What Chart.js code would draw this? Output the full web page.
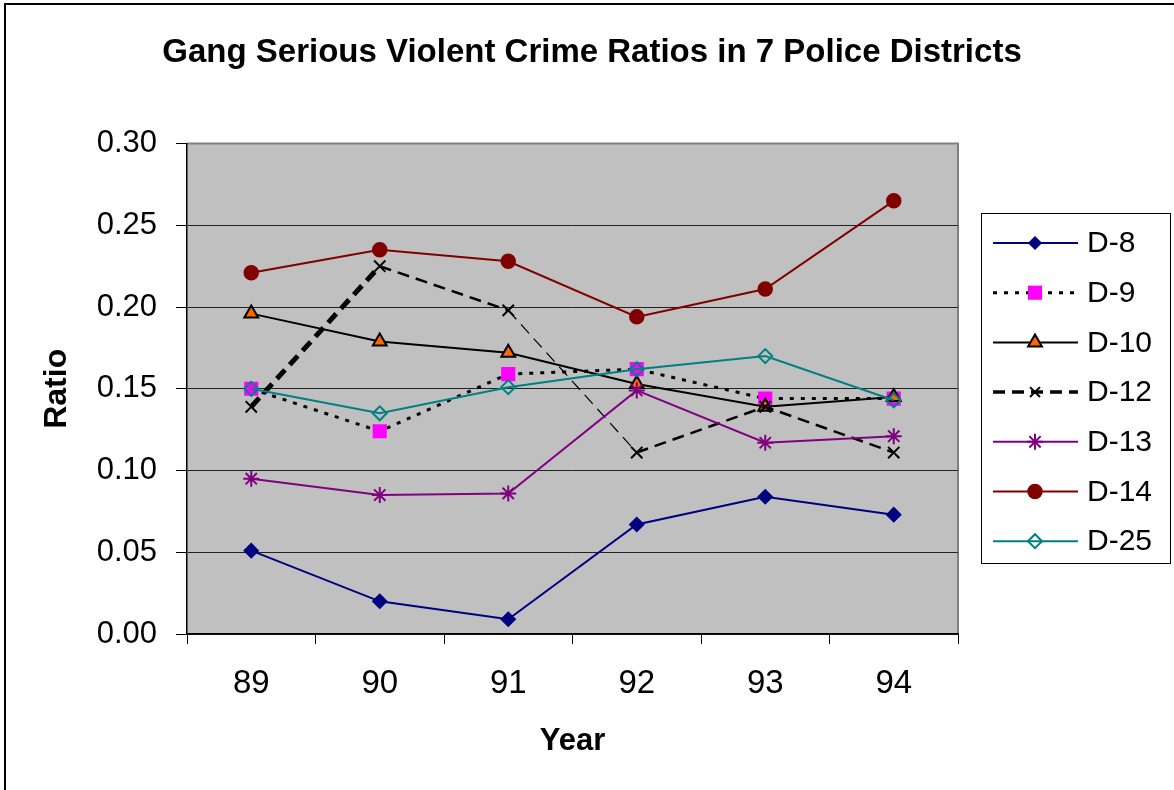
<!DOCTYPE html>
<html>
<head>
<meta charset="utf-8">
<script src="https://cdn.jsdelivr.net/npm/chart.js@4/dist/chart.umd.min.js"></script>
<style>
  html, body { margin: 0; padding: 0; background: #fff; overflow: hidden; }
  #wrap { position: relative; width: 1174px; height: 790px; }
  #frame {
    position: absolute; left: 4px; top: 3px; width: 2000px; height: 2000px;
    border-left: 2px solid #000; border-top: 2px solid #000; pointer-events: none;
  }
</style>
</head>
<body>
<div id="wrap">
  <canvas id="crimeChart" width="1174" height="790"></canvas>
  <div id="frame"></div>
</div>
<script>
// categories
const years = ["89", "90", "91", "92", "93", "94"];

// ratios per district
const d8 = [0.051, 0.020, 0.009, 0.067, 0.084, 0.073];
const d9 = [0.150, 0.124, 0.159, 0.162, 0.144, 0.144];
const d10 = [0.196, 0.179, 0.172, 0.153, 0.139, 0.145];
const d12 = [0.139, 0.225, 0.198, 0.111, 0.139, 0.111];
const d13 = [0.095, 0.085, 0.086, 0.149, 0.117, 0.121];
const d14 = [0.221, 0.235, 0.228, 0.194, 0.211, 0.265];
const d25 = [0.150, 0.135, 0.151, 0.162, 0.170, 0.143];

// y axis ticks
const yMin = 0;
const yMax = 0.30;
const yStep = 0.05;

const FONT = "'Liberation Sans', Arial, sans-serif";

// gray plot area + light top/right frame
const plotBg = {
  id: "plotBg",
  beforeDraw(chart) {
    const { ctx, chartArea: a } = chart;
    ctx.save();
    ctx.fillStyle = "#c0c0c0";
    ctx.fillRect(a.left, a.top, a.right - a.left, a.bottom - a.top);
    ctx.strokeStyle = "#808080";
    ctx.lineWidth = 2;
    ctx.beginPath();
    ctx.moveTo(a.left, a.top);
    ctx.lineTo(a.right, a.top);
    ctx.lineTo(a.right, a.bottom);
    ctx.stroke();
    ctx.restore();
  },
};

// Excel style legend: line sample with marker in the middle
const boxLegend = {
  id: "boxLegend",
  afterDraw(chart) {
    const ctx = chart.ctx;
    const x0 = 981, y0 = 213, w = 189, h = 350;
    const rowY = 243, rowStep = 49.7;
    ctx.save();
    ctx.fillStyle = "#fff";
    ctx.fillRect(x0, y0, w, h);
    ctx.strokeStyle = "#000";
    ctx.lineWidth = 1;
    ctx.strokeRect(x0 + 0.5, y0 + 0.5, w, h);
    chart.data.datasets.forEach((ds, i) => {
      const y = rowY + i * rowStep;
      ctx.save();
      ctx.strokeStyle = ds.borderColor;
      ctx.lineWidth = ds.legendWidth || ds.borderWidth;
      ctx.setLineDash(ds.borderDash || []);
      ctx.beginPath();
      ctx.moveTo(993, y);
      ctx.lineTo(1078, y);
      ctx.stroke();
      ctx.restore();
      ctx.save();
      ctx.fillStyle = ds.pointBackgroundColor;
      ctx.strokeStyle = ds.pointBorderColor;
      ctx.lineWidth = ds.pointBorderWidth;
      Chart.helpers.drawPoint(ctx, {
        pointStyle: ds.pointStyle,
        radius: ds.legendRadius || ds.pointRadius,
        rotation: 0,
        borderWidth: ds.pointBorderWidth,
      }, 1035, y);
      ctx.restore();
      ctx.fillStyle = "#000";
      ctx.font = "30px " + FONT;
      ctx.textBaseline = "middle";
      ctx.textAlign = "left";
      ctx.fillText(ds.label, 1087, y + 1);
    });
    ctx.restore();
  },
};

function series(label, data, o) {
  return Object.assign({
    label: label,
    data: data,
    fill: false,
    tension: 0,
    borderWidth: 2,
    pointBorderWidth: 1.5,
    pointRadius: 7,
    pointHoverRadius: 7,
  }, o);
}

const datasets = [
  series("D-8", d8, {
    borderColor: "#000080", pointStyle: "rectRot",
    pointBackgroundColor: "#000080", pointBorderColor: "#000080", legendRadius: 6,
  }),
  series("D-9", d9, {
    borderColor: "#000", borderWidth: 3, borderDash: [4, 7], pointStyle: "rect", pointRadius: 10,
    pointBackgroundColor: "#ff00ff", pointBorderColor: "#ff00ff", pointBorderWidth: 0,
  }),
  series("D-10", d10, {
    borderColor: "#000", pointStyle: "triangle", pointRadius: 8,
    pointBackgroundColor: "#ff6600", pointBorderColor: "#000", pointBorderWidth: 2,
  }),
  series("D-12", d12, {
    borderColor: "#000", borderWidth: 2.5, borderDash: [12, 7], pointStyle: "crossRot", pointRadius: 8,
    pointBackgroundColor: "#000", pointBorderColor: "#000", pointBorderWidth: 2,
    legendWidth: 3.5, legendRadius: 7,
    segment: {
      borderWidth: (c) => (c.p0DataIndex === 0 ? 5 : c.p0DataIndex === 2 ? 1.2 : 2.5),
    },
  }),
  series("D-13", d13, {
    borderColor: "#800080", pointStyle: "star", pointRadius: 8, pointBorderWidth: 2,
    pointBackgroundColor: "#800080", pointBorderColor: "#800080",
  }),
  series("D-14", d14, {
    borderColor: "#800000", pointStyle: "circle",
    pointBackgroundColor: "#800000", pointBorderColor: "#800000",
  }),
  series("D-25", d25, {
    borderColor: "#008080", pointStyle: "rectRot", pointRadius: 7,
    pointBackgroundColor: "rgba(0,0,0,0)", pointBorderColor: "#008080", pointBorderWidth: 2,
  }),
];
// later series drawn on top, like the original
datasets.forEach((ds, i) => { ds.order = datasets.length - i; });

new Chart(document.getElementById("crimeChart").getContext("2d"), {
  type: "line",
  data: { labels: years, datasets: datasets },
  options: {
    responsive: false,
    animation: false,
    layout: { padding: { left: 10, right: 0, top: 0, bottom: 0 } },
    plugins: {
      legend: { display: false },
      tooltip: { enabled: false },
      title: {
        display: true,
        text: "Gang Serious Violent Crime Ratios in 7 Police Districts",
        color: "#000",
        font: { family: FONT, size: 33, weight: "bold", lineHeight: 1.2 },
        padding: { top: 33, bottom: 71 },
      },
    },
    scales: {
      x: {
        type: "category",
        offset: true,
        grid: {
          offset: true,
          drawOnChartArea: false,
          drawTicks: true,
          tickLength: 10,
          color: "#000",
        },
        border: { display: true, color: "#000", width: 1.5 },
        ticks: {
          color: "#000",
          font: { family: FONT, size: 33 },
          padding: 20,
          maxRotation: 0,
        },
        title: {
          display: true,
          text: "Year",
          color: "#000",
          font: { family: FONT, size: 31, weight: "bold", lineHeight: 1.2 },
          padding: { top: 0, bottom: 30 },
        },
        afterFit(scale) { scale.height = 156; },
      },
      y: {
        min: yMin,
        max: yMax,
        grid: {
          color: (c) => (c.tick && c.tick.value >= yMax - 1e-9 ? "rgba(0,0,0,0)" : "#222"),
          tickColor: "#000",
          lineWidth: 1,
          tickLength: 11,
        },
        border: { display: true, color: "#000", width: 1.5 },
        ticks: {
          stepSize: yStep,
          color: "#000",
          font: { family: FONT, size: 31 },
          padding: 19,
          callback: (v) => v.toFixed(2),
        },
        title: {
          display: true,
          text: "Ratio",
          color: "#000",
          font: { family: FONT, size: 32, weight: "bold", lineHeight: 1.2 },
          padding: { top: 28, bottom: 0 },
        },
        afterFit(scale) { scale.width = 177; },
      },
      // empty right-hand strip that holds the legend space
      side: {
        type: "linear",
        position: "right",
        display: true,
        grid: { display: false, drawTicks: false },
        border: { display: false },
        ticks: { display: false },
        afterFit(scale) { scale.width = 216; },
      },
    },
  },
  plugins: [plotBg, boxLegend],
});
</script>
</body>
</html>
